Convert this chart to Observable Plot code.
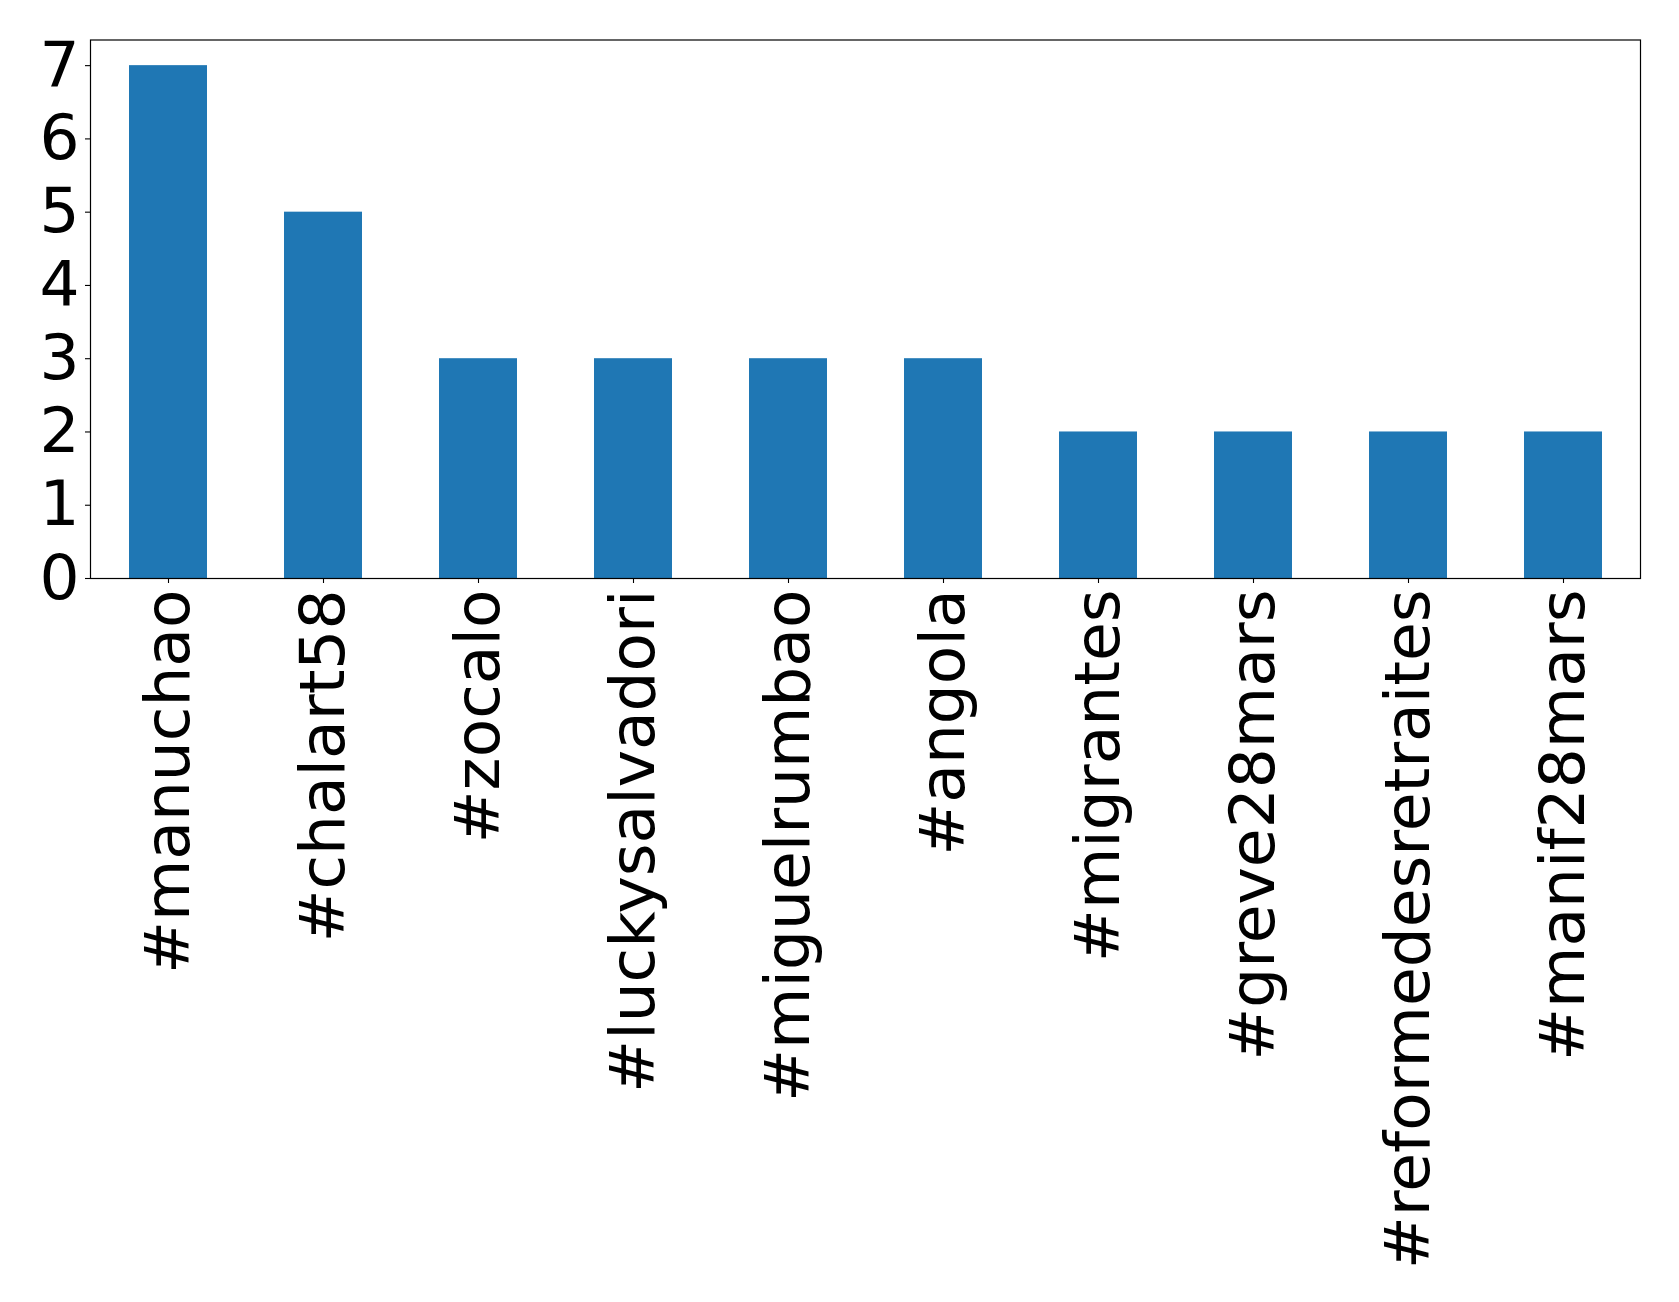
<!DOCTYPE html>
<html>
<head>
<meta charset="utf-8">
<script src="https://cdn.jsdelivr.net/npm/d3@7"></script>
<script src="https://cdn.jsdelivr.net/npm/@observablehq/plot@0.6"></script>
<style>
  html, body { margin: 0; padding: 0; background: #fff; }
</style>
</head>
<body>
<div id="chart"></div>
<script>
const categories = ["#manuchao", "#chalart58", "#zocalo", "#luckysalvadori", "#miguelrumbao", "#angola", "#migrantes", "#greve28mars", "#reformedesretraites", "#manif28mars"];
const counts = [7, 5, 3, 3, 3, 3, 2, 2, 2, 2];
const yTicks = [0, 1, 2, 3, 4, 5, 6, 7];

const data = categories.map((c, i) => ({tag: c, n: counts[i]}));

const chart = Plot.plot({
  width: 1679,
  height: 1302,
  marginLeft: 90,
  marginRight: 39,
  marginTop: 39.5,
  marginBottom: 724,
  style: {fontFamily: "DejaVu Sans", background: "#fff", color: "black"},
  x: {domain: categories, paddingInner: 0.5, paddingOuter: 0.25, label: null},
  y: {domain: [0, 7.35], label: null},
  marks: [
    Plot.barY(data, {x: "tag", y: "n", fill: "#1f77b4"}),
    Plot.frame({stroke: "black", strokeWidth: 1.2}),
    Plot.axisY({ticks: yTicks, tickFormat: d => String(d), fontSize: 63, tickSize: 5, tickPadding: 6, label: null, strokeWidth: 1.1}),
    Plot.axisX({tickRotate: -90, fontSize: 63, tickSize: 5, tickPadding: 6, label: null, strokeWidth: 1.1})
  ]
});
document.getElementById("chart").appendChild(chart);
</script>
</body>
</html>
